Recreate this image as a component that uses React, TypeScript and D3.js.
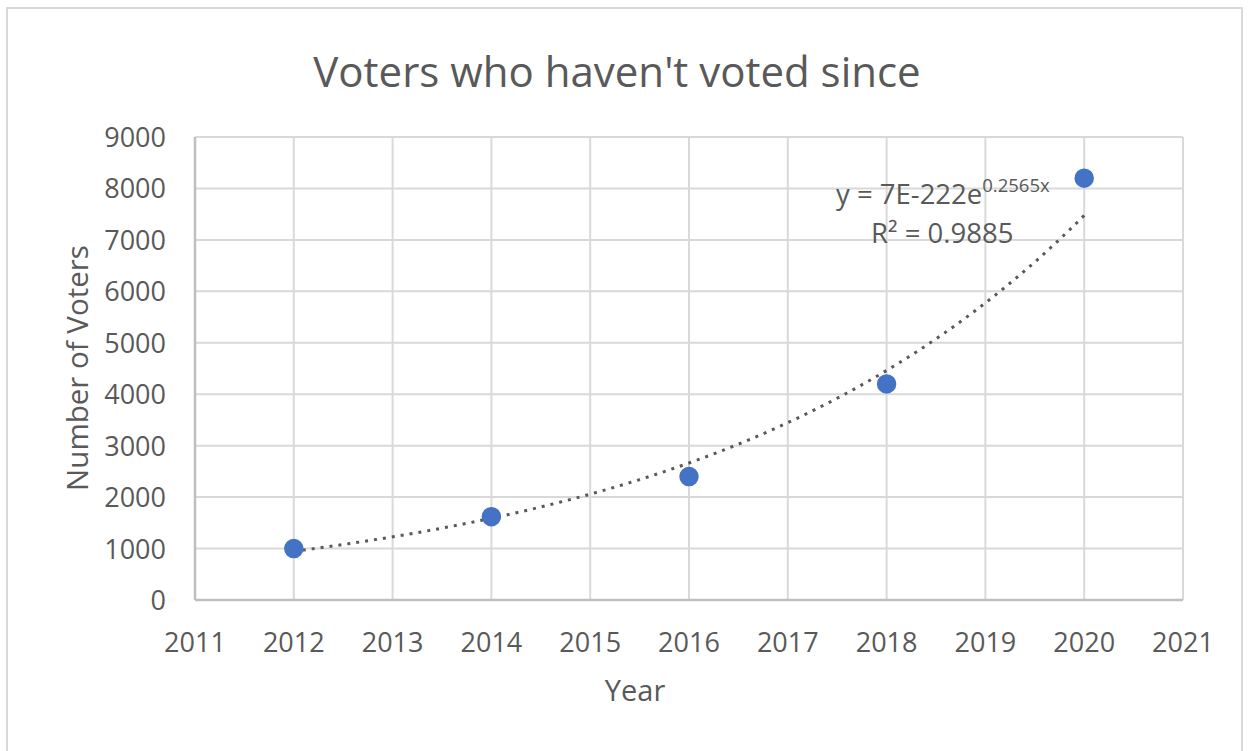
import React from "react";
import * as d3 from "d3";

const years = [2012, 2014, 2016, 2018, 2020];
const voters = [1000, 1620, 2400, 4200, 8200];
const xTicks = [2011, 2012, 2013, 2014, 2015, 2016, 2017, 2018, 2019, 2020, 2021];
const yTicks = [0, 1000, 2000, 3000, 4000, 5000, 6000, 7000, 8000, 9000];
const title = "Voters who haven't voted since";
const xTitle = "Year";
const yTitle = "Number of Voters";
const eqMain = "y = 7E-222e";
const eqSup = "0.2565x";
const r2Label = "R² = 0.9885";

const W = 1249;
const H = 751;
const FONT = "'Open Sans', 'Noto Sans', sans-serif";
const TEXT = "#595959";
const GRID = "#d9d9d9";

export default function App() {
  const x = d3.scaleLinear().domain([2011, 2021]).range([195, 1183]);
  const y = d3.scaleLinear().domain([0, 9000]).range([600, 137]);

  // exponential trendline via least squares on ln(y)
  const lx = years.map((v) => v - 2016);
  const ly = voters.map((v) => Math.log(v));
  const mx = d3.mean(lx) as number;
  const my = d3.mean(ly) as number;
  const b =
    d3.sum(lx.map((v, i) => (v - mx) * (ly[i] - my))) /
    d3.sum(lx.map((v) => (v - mx) * (v - mx)));
  const a = my - b * mx;
  const trendPts: [number, number][] = d3
    .range(0, 81)
    .map((i) => 2012 + (i * 8) / 80)
    .map((t) => [t, Math.exp(a + b * (t - 2016))]);
  const line = d3
    .line<[number, number]>()
    .x((d) => x(d[0]))
    .y((d) => y(d[1]))
    .curve(d3.curveMonotoneX);

  return (
    <svg
      width={W}
      height={H}
      style={{ position: "absolute", left: 0, top: 0, background: "#fff" }}
      fontFamily={FONT}
    >
      <rect x={7} y={8} width={1235} height={760} fill="#fff" stroke={GRID} strokeWidth={2} />
      <text x={617} y={87} textAnchor="middle" fontSize={42} fill={TEXT}>
        {title}
      </text>
      {/* gridlines */}
      {yTicks.map((t) => (
        <line key={"gy" + t} x1={195} x2={1183} y1={y(t)} y2={y(t)} stroke={GRID} strokeWidth={2} />
      ))}
      {xTicks.map((t) => (
        <line key={"gx" + t} x1={x(t)} x2={x(t)} y1={137} y2={600} stroke={GRID} strokeWidth={2} />
      ))}
      {/* axes */}
      <line x1={195} x2={1183} y1={600} y2={600} stroke="#bfbfbf" strokeWidth={2.5} />
      <line x1={195} x2={195} y1={137} y2={600} stroke="#bfbfbf" strokeWidth={2.5} />
      {/* tick labels */}
      {yTicks.map((t) => (
        <text key={"ty" + t} x={166} y={y(t) + 10} textAnchor="end" fontSize={27} fill={TEXT}>
          {t}
        </text>
      ))}
      {xTicks.map((t) => (
        <text key={"tx" + t} x={x(t)} y={652} textAnchor="middle" fontSize={27} fill={TEXT}>
          {t}
        </text>
      ))}
      <text x={635} y={701} textAnchor="middle" fontSize={29} fill={TEXT}>
        {xTitle}
      </text>
      <text
        transform={`translate(88, 368) rotate(-90)`}
        textAnchor="middle"
        fontSize={29.5}
        fill={TEXT}
      >
        {yTitle}
      </text>
      {/* trendline */}
      <path
        d={line(trendPts) || ""}
        fill="none"
        stroke="#595959"
        strokeWidth={3}
        strokeDasharray="3 6"
      />
      {/* points */}
      {years.map((yr, i) => (
        <circle key={"p" + yr} cx={x(yr)} cy={y(voters[i])} r={9} fill="#4472C4" stroke="#4472C4" strokeWidth={1.5} />
      ))}
      {/* equation label */}
      <text x={836} y={204} fontSize={27.5} fill={TEXT}>
        {eqMain}
        <tspan dy={-12} fontSize={18.5}>
          {eqSup}
        </tspan>
      </text>
      <text x={871} y={243} fontSize={27.5} fill={TEXT}>
        {r2Label}
      </text>
    </svg>
  );
}
